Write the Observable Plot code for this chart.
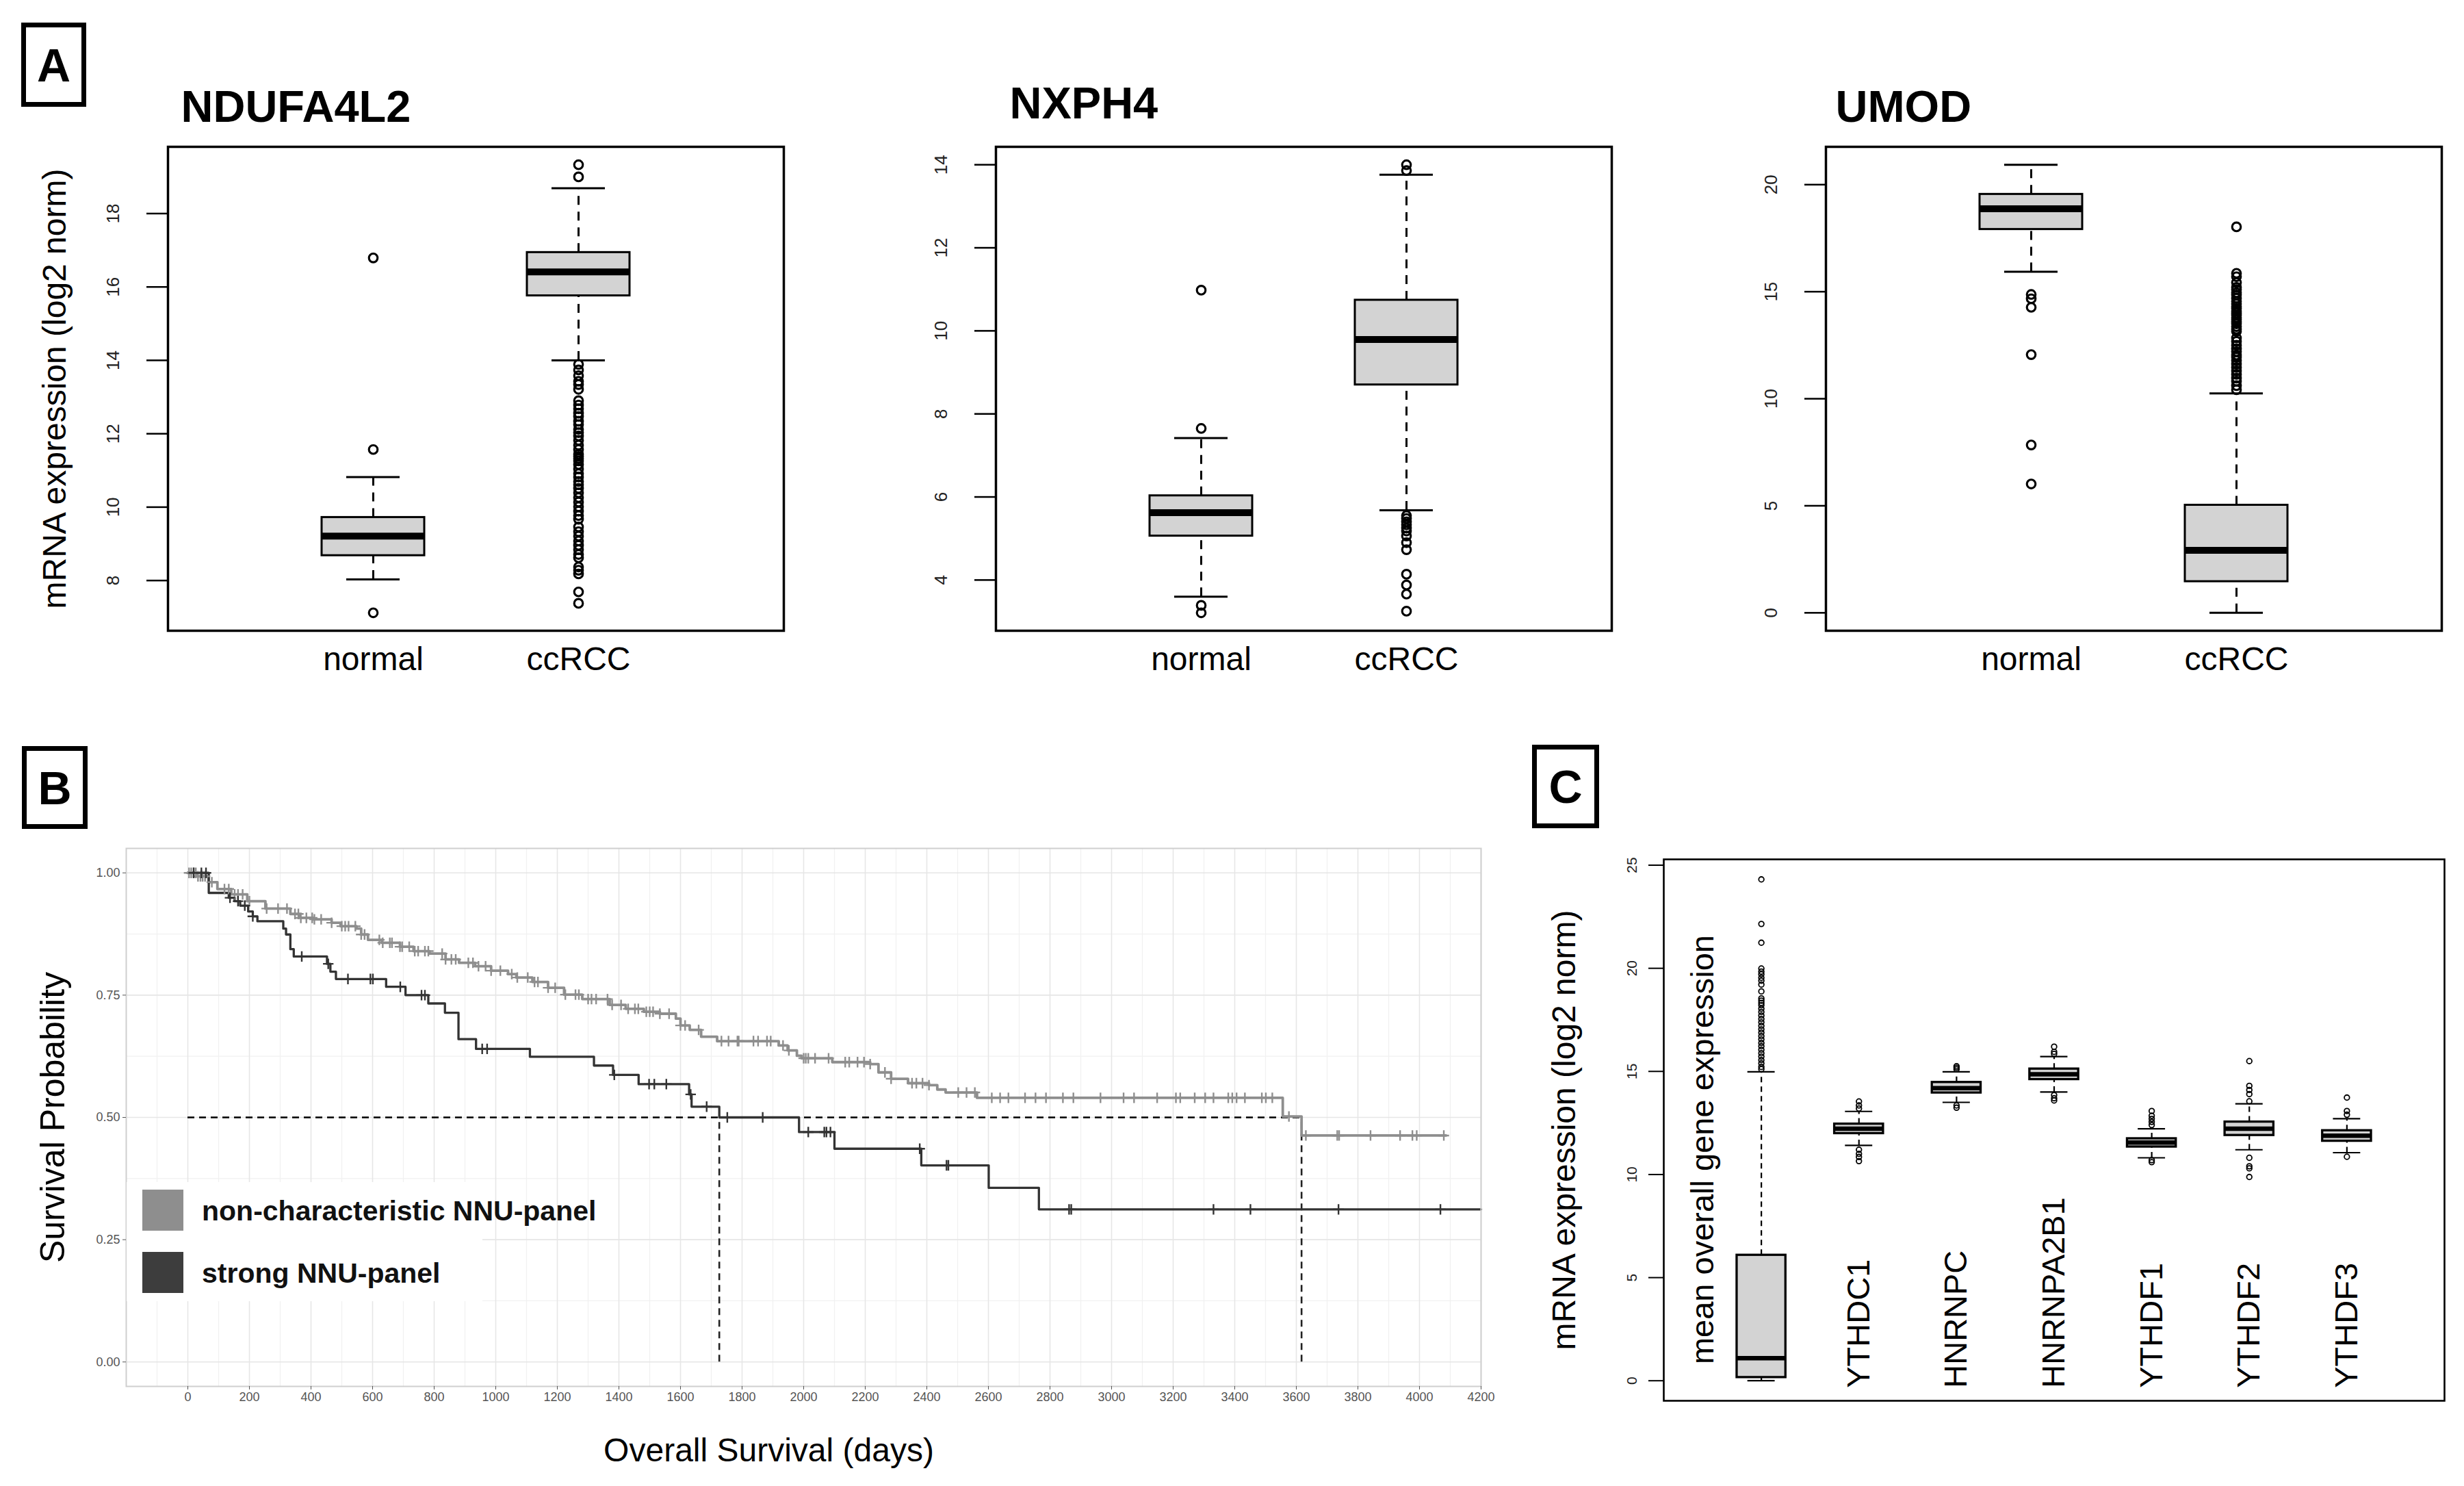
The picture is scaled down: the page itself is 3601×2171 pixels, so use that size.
<!DOCTYPE html>
<html>
<head>
<meta charset="utf-8">
<script src="https://cdn.jsdelivr.net/npm/d3@7"></script>
<script src="https://cdn.jsdelivr.net/npm/@observablehq/plot@0.6"></script>
<style>
  html, body { margin: 0; padding: 0; background: #fff; overflow: hidden; }
  #fig { position: relative; width: 3601px; height: 2171px; background: #fff;
         font-family: "Liberation Sans", Arial, Helvetica, sans-serif; overflow: hidden; }
  .letter { position: absolute; box-sizing: border-box; border: 7px solid #000; background: #fff;
            display: flex; align-items: center; justify-content: center;
            font-weight: bold; font-size: 68px; line-height: 1; }
  .legtext { position: absolute; font-weight: bold; font-size: 41px; line-height: 41px; white-space: nowrap; color: #111; }
</style>
</head>
<body>
<div id="fig"></div>
<script>
// ---------------- DATA ----------------
// Panel A: box stats are [lower whisker, Q1, median, Q3, upper whisker]
const catsA = ["normal", "ccRCC"];
const ticksNdufa4l2 = [8, 10, 12, 14, 16, 18];
const ticksNxph4 = [4, 6, 8, 10, 12, 14];
const ticksUmod = [0, 5, 10, 15, 20];

const ndufa4l2Normal = [8.03, 8.68, 9.21, 9.72, 10.82];
const ndufa4l2Tumor = [14.0, 15.76, 16.41, 16.94, 18.69];
const ndufa4l2NormalOut = [16.79, 11.57, 7.12];
const ndufa4l2TumorOut = [19.33, 19.0, 13.89, 13.74, 13.58, 13.43, 13.34, 13.21, 12.90, 12.78, 12.68,
  12.56, 12.47, 12.34, 12.25, 12.12, 12.03, 11.94, 11.82, 11.69, 11.57, 11.44, 11.38, 11.32, 11.26,
  11.16, 11.04, 10.91, 10.82, 10.70, 10.61, 10.51, 10.39, 10.26, 10.14, 10.01, 9.89, 9.77, 9.67,
  9.46, 9.33, 9.21, 9.08, 8.96, 8.84, 8.71, 8.62, 8.37, 8.28, 8.18, 7.69, 7.38];

const nxph4Normal = [3.60, 5.06, 5.62, 6.03, 7.42];
const nxph4Tumor = [5.68, 8.70, 9.79, 10.74, 13.76];
const nxph4NormalOut = [10.98, 7.65, 3.39, 3.21];
const nxph4TumorOut = [14.0, 13.86, 5.55, 5.48, 5.40, 5.33, 5.25, 5.18, 5.06, 4.90, 4.73, 4.14, 3.88, 3.66, 3.25];

const umodNormal = [15.93, 17.91, 18.87, 19.55, 20.93];
const umodTumor = [0, 1.46, 2.92, 5.03, 10.25];
const umodNormalOut = [14.87, 14.67, 14.27, 12.06, 7.84, 6.02];
const umodTumorOut = [18.03, 15.86, 15.70, 15.43, 15.2, 15.1, 14.95, 14.85, 14.69, 14.55, 14.43, 14.3,
  14.21, 14.1, 14.00, 13.9, 13.79, 13.7, 13.58, 13.5, 13.37, 13.25, 13.15, 12.84, 12.68, 12.50, 12.33,
  12.20, 12.04, 11.94, 11.78, 11.62, 11.46, 11.30, 11.14, 10.96, 10.82, 10.61, 10.42];

// Panel B: Kaplan-Meier steps [day, survival] and censor times
const kmLabels = ["non-characteristic NNU-panel", "strong NNU-panel"];
const kmColors = ["#8e8e8e", "#333333"];
const xTicksB = [0, 200, 400, 600, 800, 1000, 1200, 1400, 1600, 1800, 2000, 2200, 2400, 2600, 2800,
  3000, 3200, 3400, 3600, 3800, 4000, 4200];
const xMinorB = [-100, 100, 300, 500, 700, 900, 1100, 1300, 1500, 1700, 1900, 2100, 2300, 2500, 2700,
  2900, 3100, 3300, 3500, 3700, 3900, 4100];
const yTicksB = [0, 0.25, 0.5, 0.75, 1];
const yMinorB = [0.125, 0.375, 0.625, 0.875];

const kmGray = [[0, 1], [30, 0.993], [67, 0.981], [96, 0.967], [141, 0.956], [193, 0.942], [252, 0.927],
  [333, 0.916], [363, 0.908], [407, 0.905], [467, 0.898], [496, 0.891], [548, 0.886], [563, 0.874],
  [585, 0.863], [630, 0.857], [689, 0.849], [733, 0.840], [785, 0.835], [837, 0.823], [881, 0.816],
  [933, 0.809], [985, 0.800], [1040, 0.793], [1067, 0.786], [1119, 0.777], [1170, 0.765], [1222, 0.751],
  [1281, 0.742], [1370, 0.730], [1422, 0.722], [1481, 0.716], [1533, 0.712], [1585, 0.702], [1600, 0.688],
  [1630, 0.679], [1667, 0.665], [1719, 0.656], [1919, 0.647], [1948, 0.637], [1978, 0.626], [1993, 0.621],
  [2093, 0.613], [2216, 0.609], [2243, 0.592], [2284, 0.579], [2339, 0.570], [2407, 0.566], [2434, 0.557],
  [2461, 0.551], [2563, 0.540], [3556, 0.502], [3617, 0.463], [4086, 0.463]];
const kmDark = [[0, 1], [68, 0.959], [133, 0.949], [152, 0.942], [170, 0.933], [196, 0.921], [211, 0.911],
  [226, 0.901], [310, 0.886], [319, 0.874], [333, 0.844], [344, 0.829], [452, 0.814], [463, 0.798],
  [481, 0.783], [644, 0.767], [707, 0.750], [781, 0.733], [835, 0.714], [879, 0.660], [936, 0.640],
  [1111, 0.624], [1319, 0.606], [1381, 0.587], [1464, 0.568], [1628, 0.547], [1636, 0.522], [1726, 0.500],
  [1985, 0.470], [2100, 0.436], [2382, 0.402], [2601, 0.356], [2764, 0.312], [4200, 0.312]];
const censorGray = [4, 11, 19, 26, 33, 41, 48, 56, 78, 119, 133, 152, 163, 178, 200, 256, 293, 322, 348,
  359, 367, 385, 404, 411, 433, 467, 500, 511, 522, 544, 563, 574, 622, 633, 656, 663, 689, 696, 719, 737,
  748, 770, 781, 826, 837, 856, 870, 911, 926, 944, 967, 985, 1015, 1052, 1070, 1104, 1126, 1137, 1170,
  1193, 1226, 1259, 1270, 1300, 1311, 1326, 1363, 1378, 1407, 1430, 1452, 1463, 1489, 1500, 1511, 1533,
  1563, 1600, 1615, 1659, 1733, 1756, 1785, 1789, 1837, 1852, 1881, 1893, 1933, 1952, 2000, 2007, 2015,
  2037, 2081, 2135, 2148, 2175, 2196, 2216, 2264, 2284, 2352, 2366, 2386, 2407, 2502, 2529, 2556, 2611,
  2638, 2665, 2719, 2753, 2787, 2842, 2876, 2964, 3039, 3073, 3148, 3209, 3223, 3270, 3304, 3331, 3379,
  3392, 3406, 3433, 3488, 3501, 3522, 3576, 3631, 3733, 3739, 3841, 3937, 3977, 3991, 4079];
const censorDark = [19, 44, 59, 137, 163, 185, 211, 370, 456, 520, 593, 601, 690, 759, 770, 956, 972,
  1385, 1498, 1515, 1554, 1633, 1685, 1752, 1867, 2015, 2067, 2074, 2087, 2377, 2464, 2470, 2862, 2869,
  3331, 3451, 3737, 4068];

// Panel C
const catsC = ["mean overall gene expression", "YTHDC1", "HNRNPC", "HNRNPA2B1", "YTHDF1", "YTHDF2", "YTHDF3"];
const ticksC = [0, 5, 10, 15, 20, 25];
const boxMean = [0, 0.16, 1.09, 6.09, 14.98];
const boxYTHDC1 = [11.41, 11.99, 12.22, 12.45, 13.06];
const boxHNRNPC = [13.5, 13.96, 14.19, 14.47, 14.98];
const boxHNRNPA2B1 = [14.0, 14.61, 14.86, 15.12, 15.72];
const boxYTHDF1 = [10.81, 11.34, 11.55, 11.74, 12.22];
const boxYTHDF2 = [11.2, 11.9, 12.22, 12.55, 13.43];
const boxYTHDF3 = [11.06, 11.62, 11.88, 12.13, 12.71];
const outMean = [24.31, 22.15, 21.24, 19.99, 19.84, 19.71, 19.54, 19.40, 19.21, 18.88, 18.54, 18.43,
  18.32, 18.21, 18.04, 17.88, 17.71, 17.54, 17.38, 17.21, 17.04, 16.88, 16.71, 16.55, 16.38, 16.22,
  16.05, 15.88, 15.72, 15.55, 15.39, 15.22, 15.11];
const outYTHDC1 = [13.2, 13.35, 13.54, 11.2, 11.0, 10.85, 10.65];
const outHNRNPC = [15.1, 15.18, 15.25, 13.35, 13.24];
const outHNRNPA2B1 = [15.85, 15.95, 16.2, 13.85, 13.7, 13.59];
const outYTHDF1 = [12.4, 12.55, 12.7, 12.85, 13.08, 10.7, 10.6];
const outYTHDF2 = [13.55, 13.9, 14.1, 14.3, 15.5, 10.81, 10.4, 10.3, 9.88];
const outYTHDF3 = [12.9, 13.08, 13.73, 10.86];

// ---------------- HELPERS ----------------
const FONT = '"Liberation Sans", Arial, Helvetica, sans-serif';
const fig = document.getElementById("fig");
function place(node, left, top) {
  const d = document.createElement("div");
  d.style.cssText = `position:absolute;left:${left}px;top:${top}px;`;
  d.appendChild(node);
  fig.appendChild(d);
}
const rowsOf = (boxes) => boxes.map((s, i) => ({pos: i + 1, lo: s[0], q1: s[1], med: s[2], q3: s[3], hi: s[4]}));
const outsOf = (outs) => outs.flatMap((arr, i) => arr.map((v) => ({pos: i + 1, v})));
function paddedDomain(rows, outs) {
  const all = [...rows.flatMap((r) => [r.lo, r.hi]), ...outs.map((d) => d.v)];
  const [mn, mx] = d3.extent(all);
  const pad = (mx - mn) * 0.04;
  return [mn - pad, mx + pad];
}
function boxMarks(rows, outs, s) {
  return [
    Plot.ruleX(rows, {x: "pos", y1: "q3", y2: "hi", stroke: "#000", strokeWidth: s.wl, strokeDasharray: s.dash}),
    Plot.ruleX(rows, {x: "pos", y1: "lo", y2: "q1", stroke: "#000", strokeWidth: s.wl, strokeDasharray: s.dash}),
    Plot.ruleY(rows, {y: "hi", x1: (d) => d.pos - s.cw, x2: (d) => d.pos + s.cw, stroke: "#000", strokeWidth: s.wl}),
    Plot.ruleY(rows, {y: "lo", x1: (d) => d.pos - s.cw, x2: (d) => d.pos + s.cw, stroke: "#000", strokeWidth: s.wl}),
    Plot.rect(rows, {x1: (d) => d.pos - s.hw, x2: (d) => d.pos + s.hw, y1: "q1", y2: "q3",
      fill: "#d3d3d3", stroke: "#000", strokeWidth: s.bl}),
    Plot.ruleY(rows, {y: "med", x1: (d) => d.pos - s.hw, x2: (d) => d.pos + s.hw, stroke: "#000", strokeWidth: s.ml}),
    Plot.dot(outs, {x: "pos", y: "v", r: s.r, stroke: "#000", strokeWidth: s.ol, fill: "none"})
  ];
}

// ---------------- PANEL A ----------------
function panelA({title, boxes, outs, ticks, yLabel, tdx, tdy}) {
  const rows = rowsOf(boxes), o = outsOf(outs);
  return Plot.plot({
    width: 1175, height: 892,
    marginLeft: 245, marginRight: 30, marginTop: 110, marginBottom: 75,
    style: {fontFamily: FONT, background: "transparent", maxWidth: "none", overflow: "visible"},
    x: {domain: [0, 3], axis: null},
    y: {domain: paddedDomain(rows, o)},
    marks: [
      ...boxMarks(rows, o, {hw: 0.25, cw: 0.13, wl: 3, bl: 3, ml: 10, r: 6.3, ol: 3.1, dash: "13,10"}),
      Plot.frame({stroke: "#000", strokeWidth: 3.5}),
      Plot.axisY({ticks, tickSize: 31, tickFormat: () => "", strokeWidth: 2.5, label: null}),
      Plot.text(ticks, {y: (d) => d, text: (d) => String(d), frameAnchor: "left", dx: -72,
        rotate: -90, textAnchor: "middle", lineAnchor: "bottom", fontSize: 26, fill: "#222"}),
      Plot.text(catsA, {x: (d, i) => i + 1, text: (d) => d, frameAnchor: "bottom", dy: 57,
        textAnchor: "middle", lineAnchor: "bottom", fontSize: 48}),
      Plot.text([title], {text: (d) => d, frameAnchor: "top-left", dx: tdx, dy: tdy, lineAnchor: "bottom",
        textAnchor: "start", fontSize: 65, fontWeight: "bold"}),
      yLabel ? Plot.text([yLabel], {text: (d) => d, frameAnchor: "left", dx: -165, rotate: -90,
        textAnchor: "middle", fontSize: 48, lineAnchor: "middle"}) : null
    ]
  });
}
place(panelA({title: "NDUFA4L2", boxes: [ndufa4l2Normal, ndufa4l2Tumor], outs: [ndufa4l2NormalOut, ndufa4l2TumorOut],
  ticks: ticksNdufa4l2, yLabel: "mRNA expression (log2 norm)", tdx: 19, tdy: -37}), 0, 104);
place(panelA({title: "NXPH4", boxes: [nxph4Normal, nxph4Tumor], outs: [nxph4NormalOut, nxph4TumorOut],
  ticks: ticksNxph4, tdx: 20, tdy: -42}), 1210, 104);
place(panelA({title: "UMOD", boxes: [umodNormal, umodTumor], outs: [umodNormalOut, umodTumorOut],
  ticks: ticksUmod, tdx: 14, tdy: -37}), 2423, 104);

// ---------------- PANEL B ----------------
const survAt = (steps, t) => { let s = steps[0][1]; for (const [d, v] of steps) { if (d <= t) s = v; else break; } return s; };
const medianOf = (steps) => steps.find(([, v]) => v <= 0.5)[0];
const lineRows = [kmGray, kmDark].flatMap((steps, g) => steps.map(([t, s]) => ({t, s, g})));
const censorRows = [[censorGray, kmGray], [censorDark, kmDark]].flatMap(([cs, steps], g) =>
  cs.map((t) => ({t, s: survAt(steps, t), g})));
const medians = [medianOf(kmDark), medianOf(kmGray)];

const plotB = Plot.plot({
  width: 2184, height: 930,
  marginLeft: 184, marginRight: 20, marginTop: 14, marginBottom: 130,
  style: {fontFamily: FONT, background: "transparent", maxWidth: "none", overflow: "visible"},
  x: {domain: [-200, 4200]},
  y: {domain: [-0.05, 1.05]},
  marks: [
    Plot.ruleX(xMinorB, {x: (d) => d, stroke: "#f1f1f1", strokeWidth: 1.3}),
    Plot.ruleY(yMinorB, {y: (d) => d, stroke: "#f1f1f1", strokeWidth: 1.3}),
    Plot.ruleX(xTicksB, {x: (d) => d, stroke: "#e6e6e6", strokeWidth: 1.6}),
    Plot.ruleY(yTicksB, {y: (d) => d, stroke: "#e6e6e6", strokeWidth: 1.6}),
    Plot.ruleY([0.5], {y: (d) => d, x1: 0, x2: d3.max(medians), stroke: "#000", strokeWidth: 2.6, strokeDasharray: "10,7"}),
    Plot.ruleX(medians, {x: (d) => d, y1: 0, y2: 0.5, stroke: "#222", strokeWidth: 2.6, strokeDasharray: "10,7"}),
    Plot.line(lineRows, {x: "t", y: "s", z: "g", stroke: (d) => kmColors[d.g], curve: "step-after",
      strokeWidth: (d) => (d.g ? 3.3 : 3.8)}),
    Plot.dot(censorRows, {x: "t", y: "s", symbol: "plus", r: 5, stroke: (d) => kmColors[d.g], strokeWidth: 2.4}),
    Plot.frame({stroke: "#cfcfcf", strokeWidth: 2}),
    Plot.axisY({ticks: yTicksB, tickFormat: d3.format(".2f"), tickSize: 5, tickPadding: 4, fontSize: 18,
      color: "#555", label: null}),
    Plot.axisX({ticks: xTicksB, tickFormat: (d) => String(d), tickSize: 5, tickPadding: 4, fontSize: 18,
      color: "#555", label: null}),
    Plot.text(["Survival Probability"], {text: (d) => d, frameAnchor: "left", dx: -107, rotate: -90,
      textAnchor: "middle", fontSize: 50, lineAnchor: "middle"}),
    Plot.text(["Overall Survival (days)"], {text: (d) => d, frameAnchor: "bottom-left", dx: 939, dy: 109,
      textAnchor: "middle", lineAnchor: "bottom", fontSize: 48})
  ]
});
place(plotB, 0, 1225);

// legend (inside panel B)
const leg = document.createElement("div");
leg.style.cssText = "position:absolute;left:185px;top:1727px;width:520px;height:174px;background:#fff;";
fig.appendChild(leg);
kmLabels.forEach((lab, i) => {
  const sq = document.createElement("div");
  sq.style.cssText = `position:absolute;left:208px;top:${1738 + i * 91}px;width:60px;height:60px;background:${i ? "#3d3d3d" : "#8e8e8e"};`;
  fig.appendChild(sq);
  const tx = document.createElement("div");
  tx.className = "legtext";
  tx.style.left = "295px";
  tx.style.top = `${1749 + i * 91}px`;
  tx.textContent = lab;
  fig.appendChild(tx);
});

// ---------------- PANEL C ----------------
const rowsC = rowsOf([boxMean, boxYTHDC1, boxHNRNPC, boxHNRNPA2B1, boxYTHDF1, boxYTHDF2, boxYTHDF3]);
const outsC = outsOf([outMean, outYTHDC1, outHNRNPC, outHNRNPA2B1, outYTHDF1, outYTHDF2, outYTHDF3]);
const labelRowsC = catsC.map((c, i) => ({c, pos: i === 0 ? i + 1 - 0.6 : i + 1, base: i === 0 ? 0.8 : -0.35}));
const plotC = Plot.plot({
  width: 1381, height: 846,
  marginLeft: 211, marginRight: 29, marginTop: 35, marginBottom: 20,
  style: {fontFamily: FONT, background: "transparent", maxWidth: "none", overflow: "visible"},
  x: {domain: [0, 8], axis: null},
  y: {domain: paddedDomain(rowsC, outsC)},
  marks: [
    ...boxMarks(rowsC, outsC, {hw: 0.25, cw: 0.14, wl: 2.2, bl: 3.3, ml: 6.5, r: 3.8, ol: 1.8, dash: "8,6"}),
    Plot.frame({stroke: "#000", strokeWidth: 2.6}),
    Plot.axisY({ticks: ticksC, tickSize: 22, tickFormat: () => "", strokeWidth: 2, label: null}),
    Plot.text(ticksC, {y: (d) => d, text: (d) => String(d), frameAnchor: "left", dx: -40,
      rotate: -90, textAnchor: "middle", lineAnchor: "bottom", fontSize: 21, fill: "#222"}),
    Plot.text(labelRowsC, {x: "pos", y: "base", text: "c", rotate: -90, textAnchor: "start",
      lineAnchor: "middle", fontSize: 47}),
    Plot.text(["mRNA expression (log2 norm)"], {text: (d) => d, frameAnchor: "left", dx: -145, rotate: -90,
      textAnchor: "middle", fontSize: 48, lineAnchor: "middle"})
  ]
});
place(plotC, 2220, 1220);

// ---------------- PANEL LETTERS ----------------
[["A", 31, 33, 95, 123], ["B", 32, 1090, 96, 121], ["C", 2239, 1088, 98, 122]].forEach(([t, l, tp, w, h]) => {
  const b = document.createElement("div");
  b.className = "letter";
  b.style.left = l + "px"; b.style.top = tp + "px"; b.style.width = w + "px"; b.style.height = h + "px";
  b.textContent = t;
  fig.appendChild(b);
});
</script>
</body>
</html>
